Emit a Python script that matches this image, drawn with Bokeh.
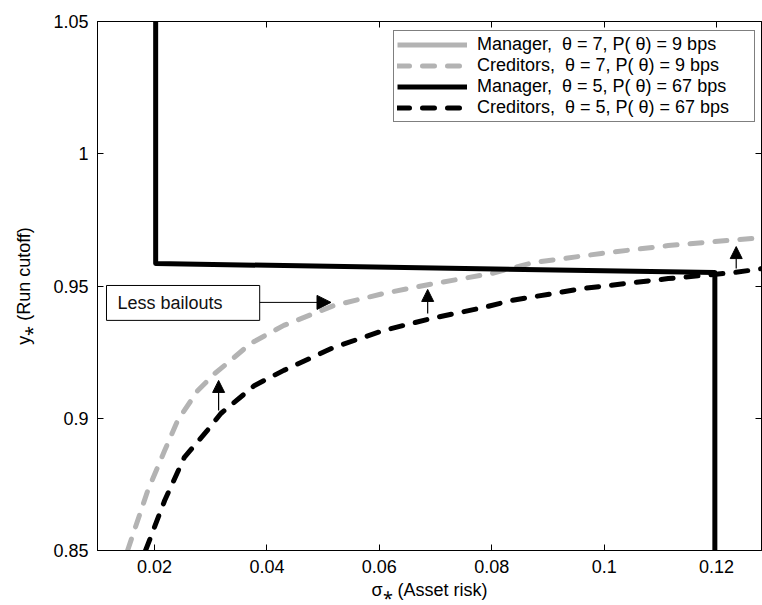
from bokeh.plotting import figure
from bokeh.models import (LinearAxis, FixedTicker, Legend, LegendItem, Arrow, NormalHead,
                          BoxAnnotation, Label, Range1d)
from bokeh.embed import file_html
from bokeh.resources import INLINE

# ---------------- data ----------------
# Creditors, theta = 5 (black dashed)
cred5_sigma = [0.0184, 0.0218, 0.0253, 0.0294, 0.0318, 0.0378, 0.0430, 0.0519, 0.0608,
               0.0692, 0.0786, 0.0834, 0.0964, 0.1114, 0.1232, 0.1282]
cred5_y = [0.8500, 0.8689, 0.8852, 0.8954, 0.9018, 0.9124, 0.9181, 0.9268, 0.9332,
           0.9377, 0.9419, 0.9445, 0.9491, 0.9528, 0.9551, 0.9566]
# Creditors, theta = 7 (gray dashed)
cred7_sigma = [0.0152, 0.0188, 0.0218, 0.0241, 0.0277, 0.0307, 0.0335, 0.0371, 0.0430,
               0.0519, 0.0608, 0.0697, 0.0799, 0.0875, 0.0995, 0.1114, 0.1282]
cred7_y = [0.8500, 0.8727, 0.8878, 0.8991, 0.9105, 0.9169, 0.9218, 0.9283, 0.9351,
           0.9426, 0.9472, 0.9509, 0.9547, 0.9589, 0.9623, 0.9653, 0.9683]
# Manager, theta = 5 (black solid)
man5_sigma = [0.0202, 0.0202, 0.1197, 0.1197]
man5_y = [1.06, 0.9585, 0.9551, 0.84]
# Manager, theta = 7 (gray solid) - lies outside the visible window
man7_sigma = [0.0085, 0.0085]
man7_y = [1.06, 0.84]

series_labels = [
    "Manager,  \u03b8 = 7, P( \u03b8) = 9 bps",
    "Creditors,  \u03b8 = 7, P( \u03b8) = 9 bps",
    "Manager,  \u03b8 = 5, P( \u03b8) = 67 bps",
    "Creditors,  \u03b8 = 5, P( \u03b8) = 67 bps",
]

x_ticks = [0.02, 0.04, 0.06, 0.08, 0.10, 0.12]
x_tick_labels = ["0.02", "0.04", "0.06", "0.08", "0.1", "0.12"]
y_ticks = [0.85, 0.90, 0.95, 1.00, 1.05]
y_tick_labels = ["0.85", "0.9", "0.95", "1", "1.05"]

# arrows
up_arrows_x = [0.0314, 0.0686, 0.1235]
up_arrows_y0 = [0.9029, 0.9396, 0.9566]
up_arrows_y1 = [0.9143, 0.9487, 0.9649]
note_text = "Less bailouts"
note_box = [0.01145, 0.03871, 0.9370, 0.9502]  # left, right, bottom, top
note_text_pos = [0.0134, 0.9436]
note_arrow = [0.03871, 0.9438, 0.0514, 0.9438]

FONT = "Liberation Sans"
GRAY = "#b3b3b3"

p = figure(width=762, height=605, output_backend="svg", toolbar_location=None,
           x_range=Range1d(0.00985, 0.1280), y_range=Range1d(0.85, 1.05),
           min_border_left=97, min_border_right=1, min_border_top=21, min_border_bottom=55,
           x_axis_label="\u03c3\u204e (Asset risk)", y_axis_label="y\u204e (Run cutoff)")
p.grid.visible = False
p.outline_line_color = "black"
p.outline_line_width = 1
p.background_fill_color = "white"
p.border_fill_color = "white"

def style_axis(ax, ticks, labels, show_labels=True):
    ax.ticker = FixedTicker(ticks=ticks)
    ax.major_tick_in = 6
    ax.major_tick_out = 0
    ax.minor_tick_line_color = None
    ax.axis_line_color = "black"
    ax.major_tick_line_color = "black"
    ax.major_label_text_font = FONT
    ax.major_label_text_color = "black"
    ax.axis_label_text_font = FONT
    ax.axis_label_text_font_style = "normal"
    ax.axis_label_text_color = "black"
    ax.major_label_text_font_size = "18px"
    ax.axis_label_text_font_size = "18px"
    if show_labels:
        ax.major_label_overrides = {t: l for t, l in zip(ticks, labels)}
    else:
        ax.major_label_overrides = {t: "" for t in ticks}
        ax.major_label_standoff = 0

xa = p.xaxis[0]
style_axis(xa, x_ticks, x_tick_labels)
xa.major_label_standoff = 9
xa.axis_label_standoff = 4
ya = p.yaxis[0]
style_axis(ya, y_ticks, y_tick_labels)
ya.major_label_standoff = 9
ya.axis_label_standoff = 16

top = LinearAxis()
style_axis(top, x_ticks, x_tick_labels, show_labels=False)
p.add_layout(top, "above")
right = LinearAxis()
style_axis(right, y_ticks, y_tick_labels, show_labels=False)
p.add_layout(right, "right")

LW = 5
r_m7 = p.line(man7_sigma, man7_y, line_color=GRAY, line_width=LW)
r_c7 = p.line(cred7_sigma, cred7_y, line_color=GRAY, line_width=LW, line_dash="12 13",
              line_cap="round", line_join="round")
r_c5 = p.line(cred5_sigma, cred5_y, line_color="black", line_width=LW, line_dash="12 13",
              line_cap="round", line_join="round")
r_m5 = p.line(man5_sigma, man5_y, line_color="black", line_width=LW, line_join="round")

for xv, y0, y1 in zip(up_arrows_x, up_arrows_y0, up_arrows_y1):
    p.add_layout(Arrow(end=NormalHead(size=12, fill_color="black", line_color="black", line_width=1),
                       x_start=xv, y_start=y0, x_end=xv, y_end=y1,
                       line_color="black", line_width=1.2))

p.add_layout(BoxAnnotation(left=note_box[0], right=note_box[1], bottom=note_box[2], top=note_box[3],
                           fill_color="white", fill_alpha=1, line_color="black", line_width=1,
                           line_alpha=1))
p.add_layout(Label(x=note_text_pos[0], y=note_text_pos[1], text=note_text, text_font=FONT,
                   text_font_size="18px", text_baseline="middle", text_color="#111111"))
p.add_layout(Arrow(end=NormalHead(size=14, fill_color="black", line_color="black", line_width=1),
                   x_start=note_arrow[0], y_start=note_arrow[1], x_end=note_arrow[2], y_end=note_arrow[3],
                   line_color="black", line_width=1))

legend = Legend(items=[LegendItem(label=series_labels[0], renderers=[r_m7]),
                       LegendItem(label=series_labels[1], renderers=[r_c7]),
                       LegendItem(label=series_labels[2], renderers=[r_m5]),
                       LegendItem(label=series_labels[3], renderers=[r_c5])],
                location=(296, 428), orientation="vertical")
legend.label_text_font = FONT
legend.label_text_font_size = "18px"
legend.label_text_color = "black"
legend.glyph_width = 70
legend.glyph_height = 21
legend.label_height = 21
legend.label_width = 274
legend.label_standoff = 10
legend.spacing = 0
legend.padding = 3
legend.margin = 0
legend.border_line_color = "black"
legend.border_line_width = 1
legend.background_fill_alpha = 1
p.add_layout(legend, "center")

open("out.html", "w").write(file_html(p, INLINE))
